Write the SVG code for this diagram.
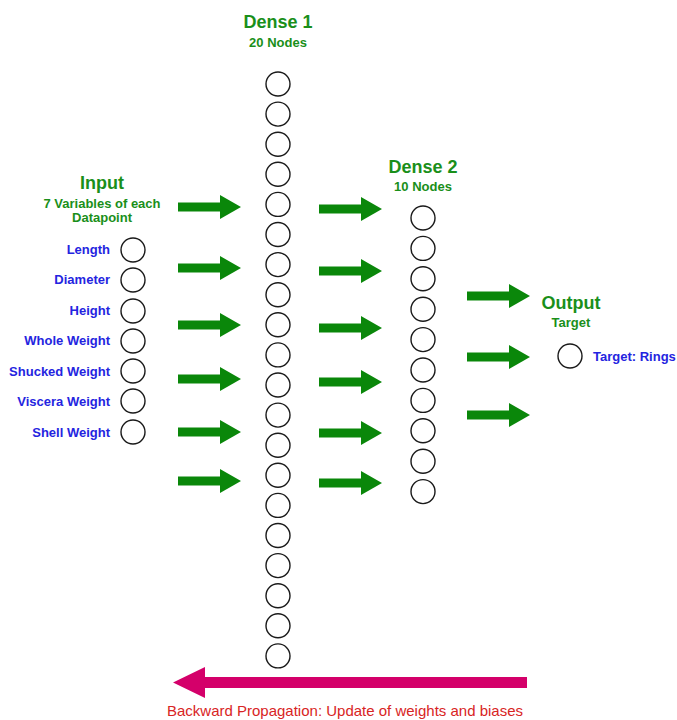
<svg xmlns="http://www.w3.org/2000/svg" width="677" height="720" viewBox="0 0 677 720">
  <style>
    .node { fill: #ffffff; stroke: #1a1a1a; stroke-width: 1.4; }
    .title { font-family: "Liberation Sans", Arial, sans-serif; font-weight: bold; font-size: 18px; fill: #1a8f1a; text-anchor: middle; }
    .sub { font-family: "Liberation Sans", Arial, sans-serif; font-weight: bold; font-size: 13px; fill: #1a8f1a; text-anchor: middle; }
    .feat { font-family: "Liberation Sans", Arial, sans-serif; font-weight: bold; font-size: 13px; fill: #2424e0; text-anchor: end; }
    .fwd { fill: #0a870a; }
    .back { fill: #d4006a; }
    .caption { font-family: "Liberation Sans", Arial, sans-serif; font-size: 15px; fill: #d82424; text-anchor: middle; }
  </style>
  <defs>
    <!-- block arrow pointing right, tail at origin -->
    <path id="fwdArrow" d="M0,-4.5 L42,-4.5 L42,-12 L63,0 L42,12 L42,4.5 L0,4.5 Z"/>
  </defs>

  <!-- Input layer -->
  <g id="input">
    <text class="title" x="102" y="189">Input</text>
    <text class="sub" x="102" y="208">7 Variables of each</text>
    <text class="sub" x="102" y="222">Datapoint</text>
    <circle class="node" cx="133" cy="250" r="12"/>
    <circle class="node" cx="133" cy="280" r="12"/>
    <circle class="node" cx="133" cy="311" r="12"/>
    <circle class="node" cx="133" cy="341" r="12"/>
    <circle class="node" cx="133" cy="371" r="12"/>
    <circle class="node" cx="133" cy="401" r="12"/>
    <circle class="node" cx="133" cy="432" r="12"/>
    <text class="feat" x="110" y="254">Length</text>
    <text class="feat" x="110" y="284">Diameter</text>
    <text class="feat" x="110" y="315">Height</text>
    <text class="feat" x="110" y="345">Whole Weight</text>
    <text class="feat" x="110" y="376">Shucked Weight</text>
    <text class="feat" x="110" y="406">Viscera Weight</text>
    <text class="feat" x="110" y="437">Shell Weight</text>
  </g>

  <!-- Dense 1: 20 nodes -->
  <g id="dense1">
    <text class="title" x="278" y="28">Dense 1</text>
    <text class="sub" x="278" y="47">20 Nodes</text>
    <circle class="node" cx="278" cy="84" r="12"/>
    <circle class="node" cx="278" cy="114.1" r="12"/>
    <circle class="node" cx="278" cy="144.2" r="12"/>
    <circle class="node" cx="278" cy="174.3" r="12"/>
    <circle class="node" cx="278" cy="204.4" r="12"/>
    <circle class="node" cx="278" cy="234.5" r="12"/>
    <circle class="node" cx="278" cy="264.6" r="12"/>
    <circle class="node" cx="278" cy="294.7" r="12"/>
    <circle class="node" cx="278" cy="324.8" r="12"/>
    <circle class="node" cx="278" cy="354.9" r="12"/>
    <circle class="node" cx="278" cy="385" r="12"/>
    <circle class="node" cx="278" cy="415.1" r="12"/>
    <circle class="node" cx="278" cy="445.2" r="12"/>
    <circle class="node" cx="278" cy="475.3" r="12"/>
    <circle class="node" cx="278" cy="505.4" r="12"/>
    <circle class="node" cx="278" cy="535.5" r="12"/>
    <circle class="node" cx="278" cy="565.6" r="12"/>
    <circle class="node" cx="278" cy="595.7" r="12"/>
    <circle class="node" cx="278" cy="625.8" r="12"/>
    <circle class="node" cx="278" cy="655.9" r="12"/>
  </g>

  <!-- Dense 2: 10 nodes -->
  <g id="dense2">
    <text class="title" x="423" y="173">Dense 2</text>
    <text class="sub" x="423" y="191">10 Nodes</text>
    <circle class="node" cx="423" cy="218" r="12"/>
    <circle class="node" cx="423" cy="248.4" r="12"/>
    <circle class="node" cx="423" cy="278.8" r="12"/>
    <circle class="node" cx="423" cy="309.2" r="12"/>
    <circle class="node" cx="423" cy="339.6" r="12"/>
    <circle class="node" cx="423" cy="370" r="12"/>
    <circle class="node" cx="423" cy="400.4" r="12"/>
    <circle class="node" cx="423" cy="430.8" r="12"/>
    <circle class="node" cx="423" cy="461.2" r="12"/>
    <circle class="node" cx="423" cy="491.6" r="12"/>
  </g>

  <!-- Output -->
  <g id="output">
    <text class="title" x="571" y="309">Output</text>
    <text class="sub" x="571" y="327">Target</text>
    <circle class="node" cx="570" cy="356" r="12"/>
    <text class="feat" x="593" y="361" style="text-anchor:start">Target: Rings</text>
  </g>

  <!-- Connectors -->
  <g id="connectors">
    <g class="fwd">
      <use href="#fwdArrow" x="178" y="207"/>
      <use href="#fwdArrow" x="178" y="268"/>
      <use href="#fwdArrow" x="178" y="325"/>
      <use href="#fwdArrow" x="178" y="379"/>
      <use href="#fwdArrow" x="178" y="432"/>
      <use href="#fwdArrow" x="178" y="481"/>

      <use href="#fwdArrow" x="319" y="209"/>
      <use href="#fwdArrow" x="319" y="271"/>
      <use href="#fwdArrow" x="319" y="328"/>
      <use href="#fwdArrow" x="319" y="382"/>
      <use href="#fwdArrow" x="319" y="433"/>
      <use href="#fwdArrow" x="319" y="483"/>

      <use href="#fwdArrow" x="467" y="296"/>
      <use href="#fwdArrow" x="467" y="357"/>
      <use href="#fwdArrow" x="467" y="415"/>
    </g>
    <path class="back" d="M527,677 L205,677 L205,667 L173,682.5 L205,698 L205,688 L527,688 Z"/>
  </g>

  <text class="caption" x="345" y="716">Backward Propagation: Update of weights and biases</text>
</svg>
